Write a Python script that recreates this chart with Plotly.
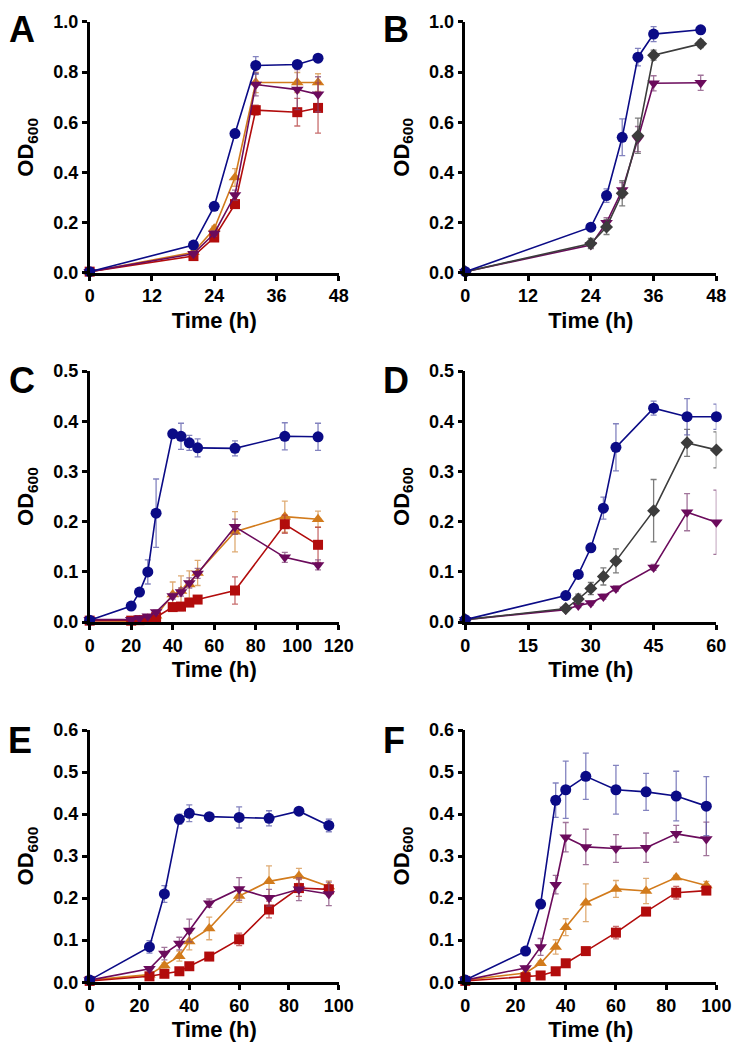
import plotly.graph_objects as go

# ---------------- DATA ----------------
# Panel A
A_t = [0, 20, 24, 28, 32, 40, 44]
A_blue = [0.005, 0.111, 0.265, 0.555, 0.826, 0.830, 0.855]
A_blue_err = [0.003, 0.008, 0.010, 0.010, 0.035, 0.010, 0.010]
A_orange = [0.005, 0.082, 0.176, 0.380, 0.758, 0.758, 0.758]
A_orange_err = [0.003, 0.005, 0.010, 0.035, 0.040, 0.040, 0.035]
A_purple = [0.005, 0.076, 0.157, 0.310, 0.750, 0.730, 0.711]
A_purple_err = [0.003, 0.005, 0.010, 0.020, 0.045, 0.080, 0.070]
A_red = [0.005, 0.067, 0.141, 0.274, 0.648, 0.640, 0.657]
A_red_err = [0.003, 0.005, 0.010, 0.015, 0.020, 0.055, 0.100]

# Panel B
B_t = [0, 24, 27, 30, 33, 36, 45]
B_blue = [0.005, 0.182, 0.308, 0.540, 0.859, 0.951, 0.968]
B_blue_err = [0.003, 0.008, 0.027, 0.073, 0.035, 0.030, 0.008]
B_grey = [0.005, 0.117, 0.183, 0.317, 0.546, 0.867, 0.912]
B_grey_err = [0.003, 0.020, 0.030, 0.050, 0.070, 0.020, 0.015]
B_purple = [0.005, 0.111, 0.200, 0.330, 0.533, 0.755, 0.757]
B_purple_err = [0.003, 0.010, 0.020, 0.030, 0.050, 0.030, 0.030]

# Panel C
C_t = [0, 20, 24, 28, 32, 40, 44, 48, 52, 70, 94, 110]
C_blue = [0.004, 0.032, 0.060, 0.100, 0.217, 0.375, 0.370, 0.357, 0.347, 0.346, 0.370, 0.369]
C_blue_err = [0.002, 0.003, 0.005, 0.024, 0.068, 0.004, 0.026, 0.015, 0.018, 0.015, 0.027, 0.027]
C_orange = [0.003, 0.002, 0.004, 0.007, 0.013, 0.055, 0.062, 0.075, 0.098, 0.180, 0.210, 0.205]
C_orange_err = [0.002, 0.002, 0.002, 0.003, 0.005, 0.025, 0.030, 0.027, 0.025, 0.040, 0.031, 0.016]
C_purple = [0.005, 0.005, 0.008, 0.012, 0.020, 0.052, 0.060, 0.078, 0.097, 0.190, 0.129, 0.114]
C_purple_err = [0.002, 0.002, 0.002, 0.003, 0.004, 0.006, 0.008, 0.010, 0.010, 0.015, 0.010, 0.010]
C_red = [0.003, 0.003, 0.004, 0.006, 0.010, 0.030, 0.031, 0.039, 0.045, 0.063, 0.195, 0.154]
C_red_err = [0.002, 0.002, 0.002, 0.003, 0.003, 0.006, 0.008, 0.006, 0.006, 0.027, 0.018, 0.035]

# Panel D
D_t = [0, 24, 27, 30, 33, 36, 45, 53, 60]
D_blue = [0.005, 0.053, 0.095, 0.148, 0.227, 0.348, 0.426, 0.409, 0.409]
D_blue_err = [0.002, 0.004, 0.006, 0.008, 0.022, 0.047, 0.014, 0.036, 0.025]
D_grey = [0.005, 0.027, 0.046, 0.067, 0.091, 0.122, 0.222, 0.357, 0.343]
D_grey_err = [0.002, 0.004, 0.010, 0.012, 0.017, 0.024, 0.062, 0.027, 0.036]
D_purple = [0.005, 0.025, 0.033, 0.038, 0.051, 0.067, 0.109, 0.219, 0.199]
D_purple_err = [0.002, 0.003, 0.004, 0.004, 0.005, 0.005, 0.006, 0.037, 0.064]

# Panel E
E_t = [0, 24, 30, 36, 40, 48, 60, 72, 84, 96]
E_blue = [0.005, 0.084, 0.210, 0.388, 0.402, 0.394, 0.392, 0.390, 0.407, 0.373]
E_blue_err = [0.003, 0.015, 0.020, 0.012, 0.020, 0.005, 0.025, 0.018, 0.004, 0.015]
E_orange = [0.005, 0.018, 0.040, 0.062, 0.097, 0.128, 0.205, 0.240, 0.253, 0.228]
E_orange_err = [0.002, 0.003, 0.006, 0.012, 0.020, 0.027, 0.015, 0.037, 0.018, 0.013]
E_purple = [0.005, 0.032, 0.068, 0.092, 0.123, 0.188, 0.222, 0.201, 0.221, 0.210]
E_purple_err = [0.002, 0.005, 0.015, 0.015, 0.027, 0.010, 0.027, 0.020, 0.027, 0.028]
E_red = [0.003, 0.014, 0.020, 0.026, 0.038, 0.061, 0.102, 0.173, 0.224, 0.221]
E_red_err = [0.002, 0.003, 0.004, 0.004, 0.005, 0.006, 0.015, 0.020, 0.020, 0.010]

# Panel F
F_t = [0, 24, 30, 36, 40, 48, 60, 72, 84, 96]
F_blue = [0.005, 0.074, 0.186, 0.433, 0.458, 0.490, 0.458, 0.453, 0.443, 0.419]
F_blue_err = [0.003, 0.006, 0.010, 0.041, 0.068, 0.055, 0.058, 0.044, 0.059, 0.070]
F_purple = [0.005, 0.034, 0.084, 0.232, 0.345, 0.322, 0.318, 0.320, 0.353, 0.341]
F_purple_err = [0.002, 0.004, 0.020, 0.022, 0.035, 0.042, 0.033, 0.035, 0.020, 0.040]
F_orange = [0.005, 0.022, 0.045, 0.084, 0.131, 0.189, 0.222, 0.217, 0.249, 0.230]
F_orange_err = [0.002, 0.003, 0.005, 0.017, 0.020, 0.045, 0.020, 0.030, 0.005, 0.010]
F_red = [0.003, 0.012, 0.016, 0.026, 0.045, 0.074, 0.118, 0.168, 0.213, 0.218]
F_red_err = [0.002, 0.002, 0.003, 0.003, 0.004, 0.005, 0.015, 0.006, 0.015, 0.006]

# axis settings per panel
panel_letters = ["A", "B", "C", "D", "E", "F"]
x_max = [48, 48, 120, 60, 100, 100]
x_dtick = [12, 12, 20, 15, 20, 20]
y_max = [1.0, 1.0, 0.5, 0.5, 0.6, 0.6]
y_dtick = [0.2, 0.2, 0.1, 0.1, 0.1, 0.1]

# ---------------- STYLE ----------------
W, H = 745, 1054
FONT = "Liberation Sans, Arial, sans-serif"
STY = {
    "blue":   dict(color="#0b0b86", err="rgba(90,90,170,0.75)", symbol="circle", size=11),
    "orange": dict(color="#d27b1c", err="rgba(215,150,80,0.8)", symbol="triangle-up", size=11),
    "purple": dict(color="#6b0b5c", err="rgba(130,70,120,0.75)", symbol="triangle-down", size=11),
    "red":    dict(color="#b20c0c", err="rgba(180,60,60,0.75)", symbol="square", size=10),
    "grey":   dict(color="#3c3c3c", err="rgba(80,80,80,0.75)", symbol="diamond", size=10),
}

# pixel boxes [x0, x1, ytop, ybottom]
boxes = [
    (87, 343, 12, 268), (473, 731, 12, 268),
    (87, 343, 368, 624), (473, 731, 368, 624),
    (87, 343, 734, 991), (473, 731, 734, 991),
]
letter_pos = [(17, 20), (402, 20), (17, 378), (402, 378), (15, 745), (400, 745)]

panels = [
    (A_t, [("orange", A_orange, A_orange_err), ("red", A_red, A_red_err),
           ("purple", A_purple, A_purple_err), ("blue", A_blue, A_blue_err)]),
    (B_t, [("purple", B_purple, B_purple_err), ("grey", B_grey, B_grey_err),
           ("blue", B_blue, B_blue_err)]),
    (C_t, [("orange", C_orange, C_orange_err), ("red", C_red, C_red_err),
           ("purple", C_purple, C_purple_err), ("blue", C_blue, C_blue_err)]),
    (D_t, [("purple", D_purple, D_purple_err), ("grey", D_grey, D_grey_err),
           ("blue", D_blue, D_blue_err)]),
    (E_t, [("orange", E_orange, E_orange_err), ("red", E_red, E_red_err),
           ("purple", E_purple, E_purple_err), ("blue", E_blue, E_blue_err)]),
    (F_t, [("orange", F_orange, F_orange_err), ("red", F_red, F_red_err),
           ("purple", F_purple, F_purple_err), ("blue", F_blue, F_blue_err)]),
]

fig = go.Figure()
layout = dict(
    autosize=True, margin=dict(l=0, r=0, t=0, b=0, pad=0),
    paper_bgcolor="white", plot_bgcolor="white", showlegend=False,
    font=dict(family=FONT, size=18, color="black"),
)
annotations = []

for i, (t, series) in enumerate(panels):
    k = "" if i == 0 else str(i + 1)
    x0, x1, yt, yb = boxes[i]
    for name, vals, errs in series:
        s = STY[name]
        fig.add_trace(go.Scatter(
            x=t, y=vals, mode="lines+markers", name=name,
            xaxis="x" + k, yaxis="y" + k, cliponaxis=False,
            line=dict(color=s["color"], width=1.6),
            marker=dict(color=s["color"], symbol=s["symbol"], size=s["size"],
                        line=dict(width=0)),
            error_y=dict(type="data", array=errs, visible=True,
                         color=s["err"], thickness=1.3, width=3),
        ))
    axis_common = dict(
        showline=True, linecolor="black", linewidth=2.5,
        ticks="outside", ticklen=5, tickwidth=2.5, tickcolor="black",
        showgrid=False, zeroline=False,
        tickfont=dict(family=FONT, size=18, color="black", weight="bold"),
    )
    layout["xaxis" + k] = dict(
        axis_common, domain=[x0 / W, x1 / W], anchor="y" + k,
        range=[0, x_max[i]], dtick=x_dtick[i], tick0=0,
        title=dict(text="Time (h)", standoff=8,
                   font=dict(family=FONT, size=22, color="black", weight="bold")),
    )
    layout["yaxis" + k] = dict(
        axis_common, domain=[1 - yb / H, 1 - yt / H], anchor="x" + k,
        range=[0, y_max[i]], dtick=y_dtick[i], tick0=0, tickformat=".1f",
        title=dict(text="OD<sub>600</sub>", standoff=14,
                   font=dict(family=FONT, size=22, color="black", weight="bold")),
    )
    lx, ly = letter_pos[i]
    annotations.append(dict(
        text=panel_letters[i], x=lx / W, y=1 - ly / H, xref="paper", yref="paper",
        showarrow=False, xanchor="center", yanchor="middle",
        font=dict(family=FONT, size=36, color="black", weight="bold"),
    ))

layout["annotations"] = annotations
fig.update_layout(**layout)
fig.write_html(
    "out.html",
    config={"displayModeBar": False, "responsive": True},
    default_width="100vw",
    default_height="100vh",
    post_script=(
        "document.documentElement.style.margin='0';"
        "document.body.style.margin='0';"
        "document.body.style.overflow='hidden';"
    ),
)
